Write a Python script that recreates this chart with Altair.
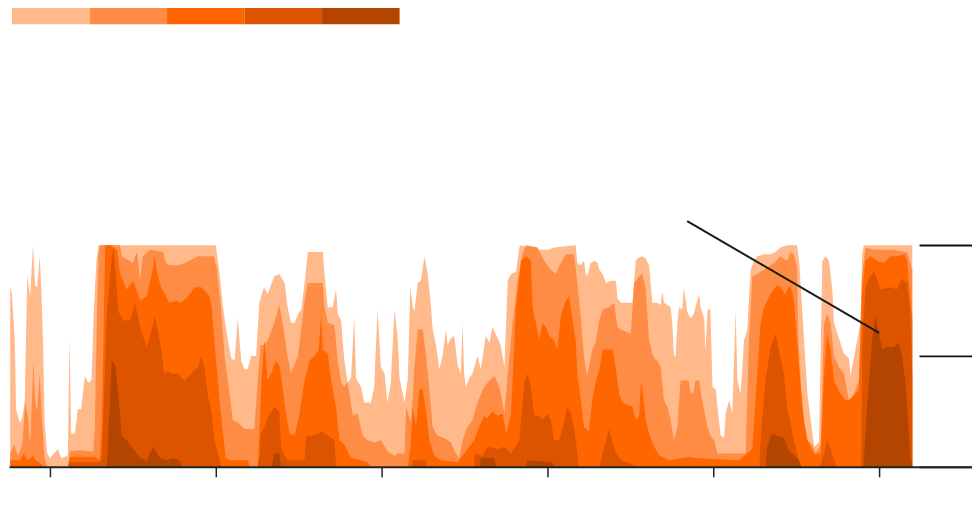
import altair as alt
import pandas as pd

# drought categories (cumulative share of area, %), decimal year -> percent
levels = ["D0", "D1", "D2", "D3", "D4"]
colors = ["#ffb98a", "#ff8c45", "#ff6600", "#dc5300", "#b34500"]

D0 = [(2000.04, 81), (2000.08, 78), (2000.15, 57), (2000.18, 26), (2000.27, 20), (2000.33, 22), (2000.39, 30),
      (2000.45, 86), (2000.52, 77), (2000.59, 100), (2000.64, 82), (2000.69, 81), (2000.75, 95), (2000.79, 80),
      (2000.83, 57), (2000.87, 20), (2000.93, 6), (2001.00, 4), (2001.19, 8), (2001.27, 4), (2001.43, 5),
      (2001.47, 58), (2001.51, 15), (2001.60, 15), (2001.67, 26), (2001.75, 26), (2001.84, 41), (2001.92, 38),
      (2002.00, 39), (2002.06, 72), (2002.12, 93), (2002.17, 100), (2005.00, 100), (2005.09, 87), (2005.17, 72),
      (2005.29, 57), (2005.37, 49), (2005.45, 48), (2005.53, 67), (2005.61, 48), (2005.69, 44), (2005.77, 44),
      (2005.85, 50), (2005.97, 50), (2006.05, 74), (2006.16, 81), (2006.25, 78), (2006.41, 86), (2006.53, 87),
      (2006.66, 83), (2006.73, 72), (2006.81, 65), (2006.90, 65), (2006.98, 69), (2007.06, 71), (2007.14, 83),
      (2007.22, 97), (2007.58, 97), (2007.62, 87), (2007.70, 72), (2007.82, 72), (2007.90, 80), (2007.94, 69),
      (2008.02, 66), (2008.10, 48), (2008.18, 38), (2008.26, 40), (2008.34, 68), (2008.38, 40), (2008.50, 36),
      (2008.58, 29), (2008.74, 29), (2008.82, 36), (2008.90, 71), (2008.98, 45), (2009.07, 42), (2009.14, 29),
      (2009.22, 38), (2009.31, 71), (2009.39, 57), (2009.43, 40), (2009.51, 33), (2009.55, 29), (2009.63, 40),
      (2009.69, 81), (2009.75, 72), (2009.79, 70), (2009.87, 83), (2009.95, 84), (2010.03, 95), (2010.11, 87),
      (2010.15, 80), (2010.19, 72), (2010.23, 62), (2010.31, 55), (2010.39, 44), (2010.47, 50), (2010.55, 62),
      (2010.59, 55), (2010.67, 58), (2010.75, 59), (2010.83, 46), (2010.91, 42), (2010.95, 65), (2010.99, 42),
      (2011.03, 36), (2011.11, 40), (2011.19, 42), (2011.31, 50), (2011.39, 44), (2011.51, 59), (2011.60, 56),
      (2011.67, 63), (2011.80, 58), (2011.87, 55), (2011.96, 45), (2012.04, 84), (2012.12, 87), (2012.24, 88),
      (2012.32, 99), (2012.35, 100), (2012.81, 98), (2013.00, 98), (2013.17, 99), (2013.68, 100), (2013.72, 92),
      (2013.80, 91), (2013.88, 93), (2013.92, 87), (2013.96, 86), (2014.04, 92), (2014.13, 93), (2014.21, 92),
      (2014.25, 89), (2014.33, 87), (2014.41, 83), (2014.53, 84), (2014.65, 84), (2014.69, 76), (2014.77, 74),
      (2015.05, 74), (2015.13, 93), (2015.17, 94), (2015.29, 95), (2015.37, 94), (2015.45, 91), (2015.53, 74),
      (2015.65, 74), (2015.73, 73), (2015.77, 79), (2015.81, 74), (2015.89, 73), (2015.97, 72), (2016.01, 65),
      (2016.05, 50), (2016.09, 50), (2016.13, 64), (2016.17, 72), (2016.25, 71), (2016.29, 81), (2016.37, 70),
      (2016.45, 67), (2016.53, 69), (2016.57, 72), (2016.66, 78), (2016.69, 72), (2016.78, 67), (2016.81, 52),
      (2016.86, 71), (2016.93, 71), (2016.98, 36), (2017.06, 35), (2017.10, 27), (2017.18, 14), (2017.26, 13),
      (2017.30, 24), (2017.38, 30), (2017.46, 24), (2017.54, 71), (2017.58, 39), (2017.66, 33), (2017.74, 57),
      (2017.82, 62), (2017.90, 89), (2017.98, 93), (2018.06, 95), (2018.22, 96), (2018.38, 96), (2018.50, 97),
      (2018.62, 99), (2018.78, 100), (2019.02, 100), (2019.07, 93), (2019.19, 57), (2019.27, 33), (2019.43, 9),
      (2019.55, 11), (2019.63, 93), (2019.71, 95), (2019.79, 93), (2019.87, 80), (2019.91, 65), (2020.03, 58),
      (2020.15, 51), (2020.27, 49), (2020.31, 41), (2020.39, 49), (2020.47, 57), (2020.55, 65), (2020.59, 96),
      (2020.63, 100), (2021.80, 100)]

D1 = [(2000.04, 6), (2000.13, 10), (2000.23, 5), (2000.33, 10), (2000.40, 29), (2000.47, 22), (2000.52, 10),
      (2000.60, 48), (2000.64, 30), (2000.69, 25), (2000.75, 42), (2000.81, 20), (2000.87, 4), (2000.93, 0),
      (2001.43, 0), (2001.48, 7), (2001.72, 7.5), (2001.92, 7), (2002.04, 7), (2002.08, 17), (2002.13, 69),
      (2002.17, 95), (2002.20, 100), (2002.69, 100), (2002.73, 95), (2003.00, 92), (2003.10, 97), (2003.17, 84),
      (2003.24, 95), (2003.41, 98), (2003.72, 97), (2003.80, 92), (2003.89, 91), (2004.08, 91), (2004.25, 92),
      (2004.57, 95), (2004.95, 95), (2005.02, 90), (2005.12, 72), (2005.21, 50), (2005.29, 39), (2005.41, 21),
      (2005.53, 20), (2005.69, 17), (2005.93, 17), (2006.01, 39), (2006.08, 55), (2006.16, 55), (2006.25, 57),
      (2006.41, 65), (2006.53, 73), (2006.61, 65), (2006.73, 50), (2006.81, 42), (2006.98, 50), (2007.06, 62),
      (2007.14, 75), (2007.22, 83), (2007.58, 83), (2007.62, 72), (2007.70, 65), (2007.86, 64), (2007.94, 48),
      (2008.02, 38), (2008.10, 36), (2008.18, 38), (2008.30, 23), (2008.42, 24), (2008.54, 14), (2008.66, 12),
      (2008.82, 11), (2008.98, 12), (2009.14, 7), (2009.31, 5), (2009.39, 6), (2009.55, 6), (2009.59, 27),
      (2009.71, 20), (2009.79, 45), (2009.87, 62), (2009.99, 62), (2010.07, 50), (2010.15, 35), (2010.23, 18),
      (2010.35, 14), (2010.51, 13), (2010.67, 11), (2010.79, 6), (2010.87, 4), (2010.95, 12), (2011.07, 18),
      (2011.19, 21), (2011.31, 29), (2011.47, 36), (2011.60, 39), (2011.72, 41), (2011.84, 36), (2011.96, 24),
      (2012.04, 42), (2012.16, 65), (2012.28, 84), (2012.40, 96), (2012.48, 100), (2012.76, 99), (2012.81, 97),
      (2012.92, 93), (2013.08, 89), (2013.20, 87), (2013.32, 92), (2013.44, 96), (2013.64, 96), (2013.72, 83),
      (2013.80, 68), (2013.88, 50), (2013.95, 41), (2014.00, 45), (2014.08, 53), (2014.16, 56), (2014.25, 66),
      (2014.33, 71), (2014.49, 72), (2014.61, 74), (2014.65, 68), (2014.69, 63), (2014.77, 62), (2015.01, 60),
      (2015.09, 83), (2015.21, 86), (2015.29, 87), (2015.37, 80), (2015.45, 57), (2015.53, 51), (2015.61, 48),
      (2015.65, 48), (2015.73, 45), (2015.81, 30), (2015.89, 27), (2015.97, 21), (2016.05, 12), (2016.13, 18),
      (2016.21, 39), (2016.41, 39), (2016.45, 33), (2016.53, 34), (2016.57, 39), (2016.66, 39), (2016.73, 30),
      (2016.86, 18), (2016.93, 14), (2017.02, 12), (2017.10, 6), (2017.78, 6), (2017.86, 57), (2017.94, 86),
      (2018.06, 87), (2018.30, 90), (2018.46, 92), (2018.62, 95), (2018.78, 93), (2018.86, 97), (2018.94, 96),
      (2019.02, 90), (2019.05, 57), (2019.14, 27), (2019.27, 12), (2019.39, 10), (2019.47, 6), (2019.59, 10),
      (2019.67, 65), (2019.75, 69), (2019.83, 65), (2019.91, 50), (2020.03, 45), (2020.15, 42), (2020.27, 30),
      (2020.39, 33), (2020.51, 39), (2020.59, 87), (2020.67, 99), (2020.88, 98), (2021.36, 98), (2021.60, 97),
      (2021.67, 97), (2021.80, 89)]

D2 = [(2000.04, 3), (2000.28, 3), (2000.37, 6), (2000.45, 3), (2000.59, 5), (2000.66, 3), (2000.88, 0),
      (2001.43, 0), (2001.48, 4.5), (2002.08, 4.5), (2002.20, 3), (2002.25, 20), (2002.33, 100), (2002.45, 100),
      (2002.61, 98), (2002.69, 87), (2002.85, 80), (2003.01, 84), (2003.17, 75), (2003.33, 77), (2003.49, 90),
      (2003.52, 95), (2003.60, 86), (2003.68, 81), (2003.88, 74), (2004.05, 75), (2004.16, 74), (2004.33, 77),
      (2004.49, 81), (2004.65, 81), (2004.76, 79), (2004.85, 77), (2004.90, 72), (2004.95, 60), (2005.02, 45),
      (2005.10, 28), (2005.19, 12), (2005.24, 4), (2005.36, 3), (2005.77, 3), (2005.82, 0), (2006.01, 0),
      (2006.06, 20), (2006.10, 39), (2006.17, 57), (2006.25, 39), (2006.33, 42), (2006.45, 48), (2006.53, 46),
      (2006.61, 36), (2006.69, 24), (2006.78, 15), (2006.90, 14), (2007.02, 24), (2007.14, 39), (2007.26, 48),
      (2007.38, 50), (2007.48, 53), (2007.54, 69), (2007.58, 53), (2007.70, 51), (2007.78, 39), (2007.90, 27),
      (2007.98, 12), (2008.10, 10), (2008.26, 4), (2008.50, 3), (2008.66, 2), (2008.74, 0), (2009.63, 0),
      (2009.70, 10), (2009.75, 27), (2009.83, 18), (2009.91, 35), (2009.99, 35), (2010.07, 25), (2010.15, 12),
      (2010.27, 5), (2010.43, 3), (2010.83, 2), (2011.23, 12), (2011.35, 18), (2011.47, 23), (2011.55, 22),
      (2011.67, 25), (2011.80, 23), (2011.92, 24), (2012.00, 15), (2012.12, 24), (2012.24, 72), (2012.36, 93),
      (2012.48, 95), (2012.60, 93), (2012.64, 72), (2012.72, 65), (2012.80, 57), (2012.88, 65), (2012.96, 63),
      (2013.04, 59), (2013.16, 57), (2013.24, 53), (2013.32, 68), (2013.44, 75), (2013.52, 77), (2013.60, 67),
      (2013.68, 57), (2013.72, 42), (2013.80, 31), (2013.88, 18), (2014.00, 16), (2014.08, 30), (2014.16, 38),
      (2014.25, 44), (2014.33, 53), (2014.45, 53), (2014.57, 53), (2014.65, 44), (2014.73, 33), (2014.81, 29),
      (2015.05, 27), (2015.13, 21), (2015.21, 23), (2015.25, 38), (2015.29, 35), (2015.37, 21), (2015.45, 15),
      (2015.57, 9), (2015.70, 5), (2015.94, 3), (2016.42, 4.5), (2016.54, 4), (2017.63, 3), (2017.94, 8),
      (2018.06, 42), (2018.14, 65), (2018.22, 72), (2018.38, 78), (2018.54, 82), (2018.62, 81), (2018.74, 78),
      (2018.78, 80), (2018.86, 82), (2018.94, 76), (2019.02, 57), (2019.10, 38), (2019.19, 20), (2019.27, 12),
      (2019.43, 6), (2019.59, 6), (2019.67, 42), (2019.75, 60), (2019.83, 53), (2019.91, 39), (2020.07, 33),
      (2020.19, 30), (2020.27, 30), (2020.39, 32), (2020.51, 35), (2020.59, 80), (2020.67, 93), (2020.79, 95),
      (2020.95, 93), (2021.11, 92), (2021.27, 95), (2021.43, 95), (2021.60, 96), (2021.67, 94), (2021.80, 66)]

D3 = [(2001.43, 0), (2001.48, 2), (2002.20, 2), (2002.25, 4), (2002.37, 69), (2002.49, 95), (2002.53, 99),
      (2002.61, 81), (2002.65, 70), (2002.77, 66), (2002.93, 66), (2003.05, 74), (2003.17, 63), (2003.33, 54),
      (2003.46, 62), (2003.52, 68), (2003.60, 62), (2003.68, 53), (2003.76, 42), (2003.84, 43), (2003.92, 42),
      (2004.08, 42), (2004.25, 39), (2004.40, 42), (2004.57, 45), (2004.65, 50), (2004.73, 44), (2004.81, 32),
      (2004.89, 25), (2004.97, 12), (2005.05, 6), (2005.13, 0), (2006.01, 0), (2006.06, 5), (2006.09, 15),
      (2006.17, 18), (2006.25, 22), (2006.41, 27), (2006.53, 25), (2006.57, 9), (2006.66, 5), (2006.73, 3),
      (2007.14, 3), (2007.18, 14), (2007.30, 14), (2007.46, 15), (2007.54, 16), (2007.70, 14), (2007.86, 12),
      (2007.90, 0), (2009.72, 0), (2009.75, 3), (2010.06, 3), (2010.08, 0), (2011.23, 0), (2011.24, 6),
      (2011.43, 5), (2011.55, 9), (2011.80, 8), (2011.96, 9), (2012.12, 6), (2012.32, 12), (2012.44, 38),
      (2012.52, 42), (2012.60, 36), (2012.68, 23), (2012.80, 23), (2012.88, 21), (2013.00, 24), (2013.08, 21),
      (2013.16, 12), (2013.28, 12), (2013.40, 20), (2013.48, 27), (2013.56, 24), (2013.64, 18), (2013.72, 6),
      (2013.76, 0), (2014.25, 0), (2014.37, 9), (2014.49, 17), (2014.57, 11), (2014.65, 6), (2014.77, 3),
      (2014.93, 2), (2015.17, 0), (2018.11, 0), (2018.14, 12), (2018.26, 39), (2018.38, 54), (2018.50, 60),
      (2018.58, 53), (2018.70, 42), (2018.78, 27), (2018.86, 20), (2018.94, 12), (2019.02, 6), (2019.10, 0),
      (2019.58, 0), (2019.67, 6), (2019.75, 12), (2019.83, 8), (2019.91, 3), (2019.99, 0), (2020.57, 0),
      (2020.59, 55), (2020.67, 80), (2020.75, 85), (2020.87, 88), (2020.95, 85), (2021.03, 80), (2021.27, 81),
      (2021.43, 80), (2021.55, 85), (2021.67, 83), (2021.75, 70), (2021.80, 40)]

D4 = [(2002.33, 0), (2002.37, 0), (2002.49, 48), (2002.57, 46), (2002.65, 32), (2002.73, 14), (2002.85, 12),
      (2003.01, 8), (2003.17, 4), (2003.33, 3), (2003.49, 9), (2003.65, 4), (2003.81, 3), (2003.97, 4),
      (2004.13, 3), (2004.18, 0), (2006.35, 0), (2006.40, 6), (2006.53, 6), (2006.57, 0), (2011.36, 0),
      (2011.39, 4), (2011.72, 4), (2011.75, 0), (2012.47, 0), (2012.52, 3), (2013.10, 2), (2013.17, 0),
      (2018.26, 0), (2018.30, 9), (2018.42, 15), (2018.54, 14), (2018.70, 13), (2018.83, 7), (2018.95, 5),
      (2019.07, 3), (2019.12, 0), (2020.62, 0), (2020.71, 27), (2020.83, 57), (2020.91, 68), (2020.99, 61),
      (2021.07, 53), (2021.19, 54), (2021.35, 54), (2021.47, 56), (2021.55, 50), (2021.63, 39), (2021.72, 15),
      (2021.75, 5), (2021.80, 0)]

series = [D0, D1, D2, D3, D4]
x_ticks = [2001, 2005, 2009, 2013, 2017, 2021]
y_ticks = [0, 50, 100]
annot_x = [2016.37, 2021.0]
annot_y = [110.9, 60.4]

rows = []
for lvl, pts in enumerate(series):
    for yr, pct in pts:
        rows.append({"year": yr, "pct": pct, "level": lvl, "cat": levels[lvl]})
df = pd.DataFrame(rows)

x_scale = alt.Scale(domain=[2000.01, 2023.24], nice=False, zero=False)
y_scale = alt.Scale(domain=[0, 207], nice=False)
color_scale = alt.Scale(type="quantize", domain=[0, 5], range=colors)

legend = alt.Legend(type="gradient", direction="horizontal", orient="none", legendX=3, legendY=-1,
                    gradientLength=388, gradientThickness=17, title=None, labelOpacity=0,
                    labelFontSize=1, gradientStrokeWidth=0, padding=0)

x_axis = alt.Axis(values=x_ticks, orient="bottom", labels=False, title=None, grid=False, zindex=1)
y_axis = alt.Axis(values=y_ticks, orient="right", offset=-53, tickSize=53, tickWidth=1.8,
                  tickColor="#111111", labels=False, domain=False, title=None, grid=False)

layers = []
for lvl in range(5):
    layers.append(
        alt.Chart(df).transform_filter(alt.datum.level == lvl)
        .mark_area(interpolate="linear", opacity=1)
        .encode(
            x=alt.X("year:Q", scale=x_scale, axis=x_axis),
            y=alt.Y("pct:Q", scale=y_scale, stack=None, axis=y_axis),
            color=alt.Color("level:Q", scale=color_scale, legend=legend),
        )
    )

annot_df = pd.DataFrame({"x": [annot_x[0]], "y": [annot_y[0]], "x2": [annot_x[1]], "y2": [annot_y[1]]})
annot = alt.Chart(annot_df).mark_rule(color="#1a1a1a", strokeWidth=2).encode(
    x=alt.X("x:Q", scale=x_scale, axis=x_axis),
    y=alt.Y("y:Q", scale=y_scale, axis=y_axis),
    x2="x2:Q", y2="y2:Q",
)

chart = alt.layer(*layers, annot).properties(
    width=964, height=459,
    autosize=alt.AutoSizeParams(type="none"),
    padding={"left": 1, "top": 0, "right": 0, "bottom": 30},
    background="white",
).configure_view(strokeWidth=0).configure_axisX(
    domain=True, domainColor="#222222", domainWidth=2, ticks=True,
    tickSize=10, tickWidth=1.5, tickColor="#222222",
)

chart.save("out.html", embed_options={"renderer": "svg", "actions": False})
